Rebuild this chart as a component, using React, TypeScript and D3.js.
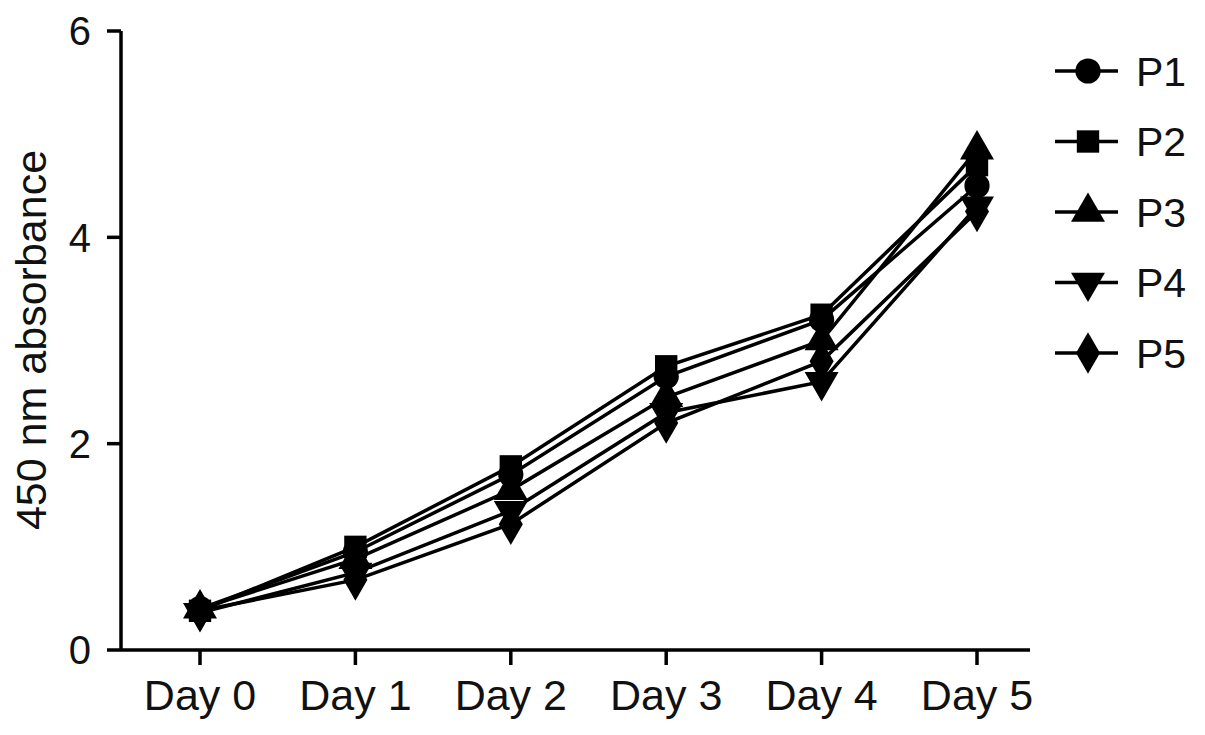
import React from "react";
import * as d3 from "d3";

const days = ["Day 0", "Day 1", "Day 2", "Day 3", "Day 4", "Day 5"];
const yTicks = [0, 2, 4, 6];
const seriesNames = ["P1", "P2", "P3", "P4", "P5"];
const p1 = [0.4, 0.95, 1.7, 2.65, 3.2, 4.5];
const p2 = [0.38, 1.0, 1.78, 2.75, 3.25, 4.7];
const p3 = [0.4, 0.88, 1.55, 2.45, 3.0, 4.85];
const p4 = [0.36, 0.75, 1.35, 2.3, 2.6, 4.3];
const p5 = [0.38, 0.68, 1.22, 2.2, 2.8, 4.25];
const seriesValues = [p1, p2, p3, p4, p5];
const symbols = [d3.symbolCircle, d3.symbolSquare, d3.symbolTriangle, d3.symbolTriangle, d3.symbolDiamond];

export default function App() {
  const W = 1205, H = 735;
  const x = d3.scalePoint<string>().domain(days).range([200, 977]);
  const y = d3.scaleLinear().domain([0, 6]).range([650, 31]);
  const line = d3.line<number>().x((_, i) => x(days[i])!).y((d) => y(d));
  const sym = (i: number, size: number) => d3.symbol().type(symbols[i]).size(size)()!;
  const font = "Liberation Sans, Arial, Helvetica, sans-serif";
  return (
    <svg width={W} height={H} style={{ position: "absolute", left: 0, top: 0, background: "#fff" }} fontFamily={font}>
      <rect width={W} height={H} fill="#fff" />
      {/* axes */}
      <line x1={121} x2={121} y1={y(6)} y2={y(0)} stroke="#000" strokeWidth={3.5} />
      <line x1={121} x2={1030} y1={y(0)} y2={y(0)} stroke="#000" strokeWidth={3.5} />
      {yTicks.map((t) => (
        <g key={t}>
          <line x1={107} x2={121} y1={y(t)} y2={y(t)} stroke="#000" strokeWidth={3.5} />
          <text x={91} y={y(t)} dy="0.36em" textAnchor="end" fontSize={40} fill="#111">{t}</text>
        </g>
      ))}
      {days.map((d) => (
        <g key={d}>
          <line x1={x(d)} x2={x(d)} y1={y(0)} y2={y(0) + 15} stroke="#000" strokeWidth={3.5} />
          <text x={x(d)} y={710} textAnchor="middle" fontSize={43} fill="#111">{d}</text>
        </g>
      ))}
      <text transform={`translate(46,340) rotate(-90)`} textAnchor="middle" fontSize={43} fill="#111">450 nm absorbance</text>
      {/* series */}
      {seriesValues.map((vals, si) => (
        <g key={si}>
          <path d={line(vals)!} fill="none" stroke="#000" strokeWidth={3.5} />
          {vals.map((v, i) => (
            <path key={i} d={sym(si, 500)} transform={`translate(${x(days[i])},${y(v)})${si === 3 ? " rotate(180)" : ""}`} fill="#000" />
          ))}
        </g>
      ))}
      {/* legend */}
      {seriesNames.map((n, i) => {
        const ly = 71 + i * 70.5;
        return (
          <g key={n}>
            <line x1={1055} x2={1118} y1={ly} y2={ly} stroke="#000" strokeWidth={3.5} />
            <path d={sym(i, 500)} transform={`translate(1088,${ly})${i === 3 ? " rotate(180)" : ""}`} fill="#000" />
            <text x={1136} y={ly} dy="0.36em" fontSize={41} fill="#111">{n}</text>
          </g>
        );
      })}
    </svg>
  );
}
